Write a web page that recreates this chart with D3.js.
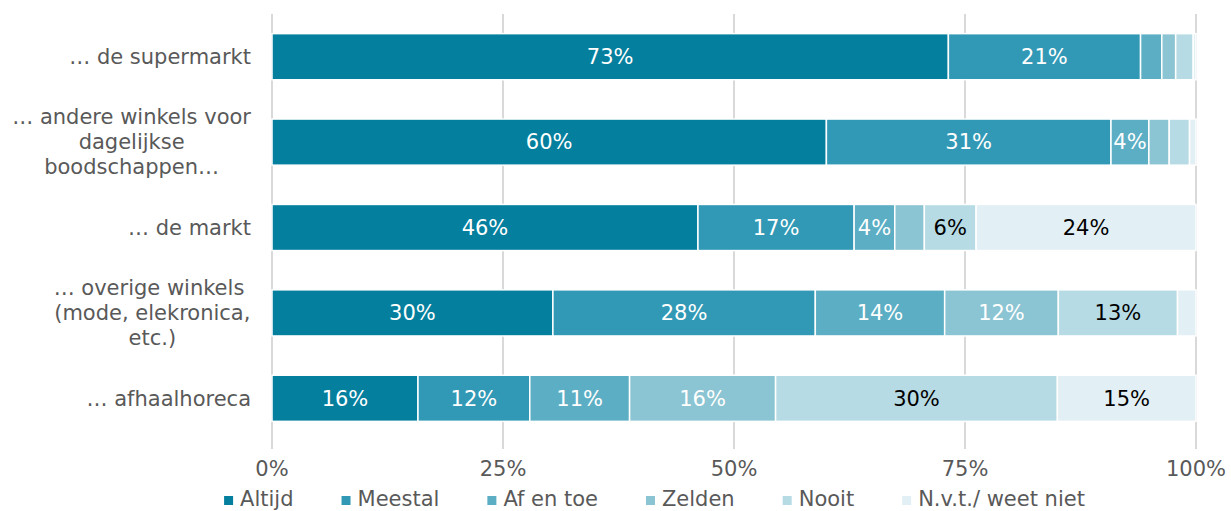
<!DOCTYPE html>
<html>
<head>
<meta charset="utf-8">
<script src="https://cdn.jsdelivr.net/npm/d3@7"></script>
<style>
  body { margin: 0; background: #fff; }
  text { font-family: "DejaVu Sans", Verdana, sans-serif; }
</style>
</head>
<body>
<svg id="chart" width="1231" height="511"></svg>
<script>
// Categories (rows), each may span multiple lines
const categories = [
  ["… de supermarkt"],
  ["… andere winkels voor", "dagelijkse", "boodschappen…"],
  ["… de markt"],
  ["… overige winkels ", "(mode, elekronica,", "etc.)"],
  ["… afhaalhoreca"]
];

const seriesNames = ["Altijd", "Meestal", "Af en toe", "Zelden", "Nooit", "N.v.t./ weet niet"];
const seriesColors = ["#04809e", "#3199b5", "#5caec4", "#8bc4d2", "#b6dbe4", "#e2eff4"];
const labelColors = ["#fff", "#fff", "#fff", "#fff", "#000", "#000"];

// Percentages per category, in series order
const altijd  = [73.2, 60.0, 46.1, 30.4, 15.8];
const meestal = [20.8, 30.8, 16.9, 28.4, 12.1];
const afEnToe = [2.3, 4.1, 4.4, 14.0, 10.8];
const zelden  = [1.5, 2.2, 3.2, 12.3, 15.8];
const nooit   = [1.9, 2.2, 5.6, 12.9, 30.5];
const nvt     = [0.3, 0.7, 23.8, 2.0, 15.0];

// Labels as shown in the bars (empty = not shown)
const shownLabels = [
  ["73%", "21%", "", "", "", ""],
  ["60%", "31%", "4%", "", "", ""],
  ["46%", "17%", "4%", "", "6%", "24%"],
  ["30%", "28%", "14%", "12%", "13%", ""],
  ["16%", "12%", "11%", "16%", "30%", "15%"]
];

const xTicks = [0, 25, 50, 75, 100];

const seriesValues = [altijd, meestal, afEnToe, zelden, nooit, nvt];

const svg = d3.select("#chart");
const margin = { left: 272, right: 35, top: 14, bottom: 70 };
const width = 1231 - margin.left - margin.right;
const height = 511 - margin.top - margin.bottom;
const fs = 21;

const g = svg.append("g").attr("transform", `translate(${margin.left},${margin.top})`);

const x = d3.scaleLinear().domain([0, 100]).range([0, width]);
const y = d3.scaleBand().domain(d3.range(categories.length)).range([0, height]).paddingInner(0.46).paddingOuter(0.23);

// Gridlines
g.selectAll("line.grid")
  .data(xTicks)
  .join("line")
    .attr("class", "grid")
    .attr("x1", d => x(d)).attr("x2", d => x(d))
    .attr("y1", 0).attr("y2", height + 8)
    .attr("stroke", "#d9d9d9")
    .attr("stroke-width", 2);

// Stack the data
const rows = categories.map((c, i) => {
  const o = { idx: i };
  seriesNames.forEach((s, j) => o[s] = seriesValues[j][i]);
  return o;
});
const stacked = d3.stack().keys(seriesNames)(rows);

const layer = g.selectAll("g.layer")
  .data(stacked)
  .join("g")
    .attr("class", "layer")
    .attr("fill", (d, i) => seriesColors[i]);

layer.selectAll("rect")
  .data(d => d)
  .join("rect")
    .attr("x", d => x(d[0]))
    .attr("y", d => y(d.data.idx))
    .attr("width", d => Math.max(0, x(d[1]) - x(d[0])))
    .attr("height", y.bandwidth())
    .attr("stroke", "#fff")
    .attr("stroke-width", 1.5);

// Bar labels
stacked.forEach((s, j) => {
  g.selectAll(`text.lab${j}`)
    .data(s)
    .join("text")
      .attr("class", `lab${j}`)
      .attr("x", d => (x(d[0]) + x(d[1])) / 2)
      .attr("y", d => y(d.data.idx) + y.bandwidth() / 2)
      .attr("dy", "0.35em")
      .attr("text-anchor", "middle")
      .attr("font-size", fs)
      .attr("fill", labelColors[j])
      .text(d => shownLabels[d.data.idx][j]);
});

// X axis labels
g.selectAll("text.xtick")
  .data(xTicks)
  .join("text")
    .attr("class", "xtick")
    .attr("x", d => x(d))
    .attr("y", height + 35)
    .attr("text-anchor", "middle")
    .attr("font-size", fs)
    .attr("fill", "#595959")
    .text(d => d + "%");

// Category labels (multi-line, centred on each other, right edge at 251)
const lineH = 25;
categories.forEach((lines, i) => {
  const t = svg.append("text")
    .attr("font-size", fs)
    .attr("fill", "#595959")
    .attr("text-anchor", "middle");
  const cy = margin.top + y(i) + y.bandwidth() / 2;
  const spans = lines.map((l, k) => t.append("tspan")
    .attr("y", cy + (k - (lines.length - 1) / 2) * lineH)
    .attr("dy", "0.35em")
    .text(l));
  const maxW = d3.max(spans, s => s.node().getComputedTextLength());
  spans.forEach(s => s.attr("x", 251 - maxW / 2));
});

// Legend
const legend = svg.append("g");
let lx = 0;
const gap = 48;
seriesNames.forEach((s, i) => {
  const item = legend.append("g").attr("transform", `translate(${lx},0)`);
  item.append("rect").attr("x", 0).attr("y", -10).attr("width", 9).attr("height", 9).attr("fill", seriesColors[i]);
  const t = item.append("text").attr("x", 16).attr("y", 0).attr("font-size", fs).attr("fill", "#595959").text(s);
  lx += 16 + t.node().getComputedTextLength() + gap;
});
const legendW = lx - gap;
legend.attr("transform", `translate(${654.5 - legendW / 2},506)`);
</script>
</body>
</html>
